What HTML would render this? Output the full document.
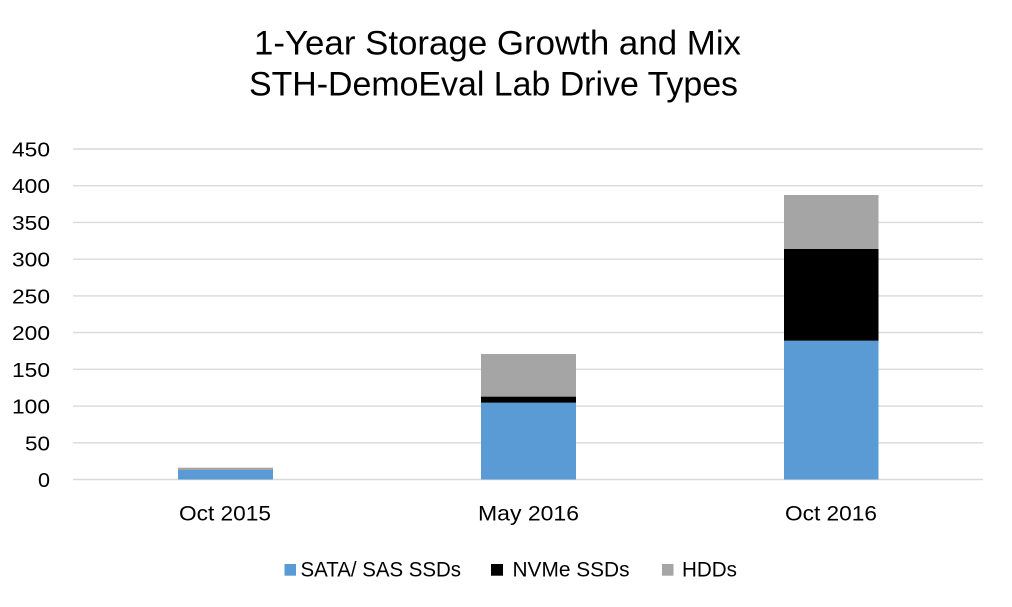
<!DOCTYPE html>
<html><head><meta charset="utf-8"><style>
html,body{margin:0;padding:0;background:#fff;}
svg{display:block;}
text{font-family:"Liberation Sans",sans-serif;fill:#000;}
</style></head><body>
<svg width="1012" height="607" viewBox="0 0 1012 607" xmlns="http://www.w3.org/2000/svg">
<rect x="0" y="0" width="1012" height="607" fill="#fff"/>
<text x="254" y="54.3" font-size="34" textLength="487" lengthAdjust="spacingAndGlyphs">1-Year Storage Growth and Mix</text>
<text x="249" y="95.5" font-size="34" textLength="489" lengthAdjust="spacingAndGlyphs">STH-DemoEval Lab Drive Types</text>
<g stroke="#D9D9D9" stroke-width="1.4">
<line x1="73" x2="983" y1="149" y2="149"/>
<line x1="73" x2="983" y1="185.7" y2="185.7"/>
<line x1="73" x2="983" y1="222.4" y2="222.4"/>
<line x1="73" x2="983" y1="259.2" y2="259.2"/>
<line x1="73" x2="983" y1="295.9" y2="295.9"/>
<line x1="73" x2="983" y1="332.6" y2="332.6"/>
<line x1="73" x2="983" y1="369.3" y2="369.3"/>
<line x1="73" x2="983" y1="406.1" y2="406.1"/>
<line x1="73" x2="983" y1="442.8" y2="442.8"/>
<line x1="73" x2="983" y1="479.5" y2="479.5"/>
</g>
<g font-size="20" text-anchor="end">
<text x="50" y="156.5" textLength="38" lengthAdjust="spacingAndGlyphs">450</text>
<text x="50" y="193.2" textLength="38" lengthAdjust="spacingAndGlyphs">400</text>
<text x="50" y="229.9" textLength="38" lengthAdjust="spacingAndGlyphs">350</text>
<text x="50" y="266.7" textLength="38" lengthAdjust="spacingAndGlyphs">300</text>
<text x="50" y="303.4" textLength="38" lengthAdjust="spacingAndGlyphs">250</text>
<text x="50" y="340.1" textLength="38" lengthAdjust="spacingAndGlyphs">200</text>
<text x="50" y="376.8" textLength="38" lengthAdjust="spacingAndGlyphs">150</text>
<text x="50" y="413.6" textLength="38" lengthAdjust="spacingAndGlyphs">100</text>
<text x="50" y="450.3" textLength="25" lengthAdjust="spacingAndGlyphs">50</text>
<text x="50" y="487" textLength="12" lengthAdjust="spacingAndGlyphs">0</text>
</g>
<!-- Oct 2015 -->
<rect x="178" y="470" width="95" height="9.5" fill="#5B9BD5"/>
<rect x="178" y="467.7" width="95" height="2.3" fill="#A5A5A5"/>
<!-- May 2016 -->
<rect x="481" y="402.7" width="95" height="76.8" fill="#5B9BD5"/>
<rect x="481" y="396.6" width="95" height="6.1" fill="#000"/>
<rect x="481" y="354" width="95" height="42.6" fill="#A5A5A5"/>
<!-- Oct 2016 -->
<rect x="784" y="340.7" width="94.5" height="138.8" fill="#5B9BD5"/>
<rect x="784" y="249" width="94.5" height="91.7" fill="#000"/>
<rect x="784" y="195" width="94.5" height="54" fill="#A5A5A5"/>
<g font-size="21">
<text x="179" y="520.5" textLength="92" lengthAdjust="spacingAndGlyphs">Oct 2015</text>
<text x="478" y="520.5" textLength="101" lengthAdjust="spacingAndGlyphs">May 2016</text>
<text x="785" y="520.5" textLength="92" lengthAdjust="spacingAndGlyphs">Oct 2016</text>
</g>
<rect x="284.5" y="564" width="11.5" height="11.7" fill="#5B9BD5"/>
<rect x="491" y="564" width="12" height="11.7" fill="#000"/>
<rect x="662" y="564" width="11.5" height="11.7" fill="#A5A5A5"/>
<g font-size="21">
<text x="300.5" y="576.7" textLength="160.5" lengthAdjust="spacingAndGlyphs">SATA/ SAS SSDs</text>
<text x="512.5" y="576.7" textLength="117" lengthAdjust="spacingAndGlyphs">NVMe SSDs</text>
<text x="682" y="576.7" textLength="55" lengthAdjust="spacingAndGlyphs">HDDs</text>
</g>
</svg>
</body></html>
